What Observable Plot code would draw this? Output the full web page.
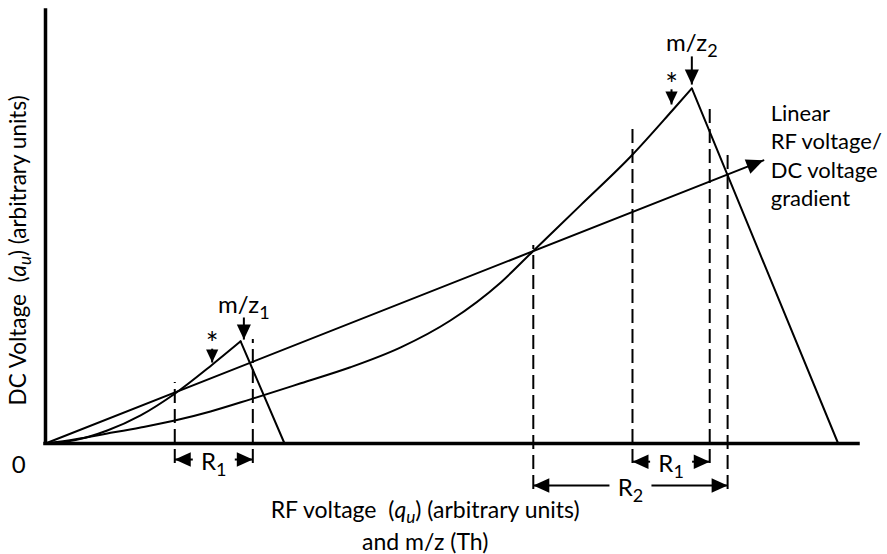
<!DOCTYPE html>
<html>
<head>
<meta charset="utf-8">
<script src="https://cdn.jsdelivr.net/npm/d3@7"></script>
<script src="https://cdn.jsdelivr.net/npm/@observablehq/plot@0.6"></script>
<style>
  body { margin: 0; background: #fff; }
  svg { display: block; }
</style>
</head>
<body>
<div id="chart"></div>
<script>
// Both axes run 0–100 in arbitrary units (x: RF voltage / m/z, y: DC voltage).

// Stability-tip curve for the lighter ion m/z1: rising edge, then the falling edge.
const mz1Rise = [[0, 0], [3.7, 0.8], [7.6, 3.0], [11.7, 6.5], [15.9, 11.5], [20.5, 18.2], [24.0, 23.6]];
const mz1Fall = [[24.0, 23.6], [29.4, 0]];

// Stability-tip curve for the heavier ion m/z2.
const mz2Rise = [[0, 0], [3.7, 1.0], [7.6, 2.3], [11.7, 3.7], [15.9, 5.3], [20.3, 7.4], [25.2, 10.2],
                 [31.4, 13.9], [37.5, 17.6], [43.7, 22.2], [49.8, 28.4], [56.0, 37.2], [59.9, 44.3],
                 [65.8, 55.0], [72.1, 66.5], [77.1, 76.9], [79.5, 82.0]];
const mz2Fall = [[79.5, 82.0], [97.5, 0]];

// Linear RF/DC scan line through the origin.
const scanLine = [[0, 0], [88.3, 65.4]];

// Transmission window edges (dashed): position and vertical extent.
const windowEdges = [
  { x: 15.9, top: 14.1, bottom: -4.6 },
  { x: 25.5, top: 24.0, bottom: -4.6 },
  { x: 60.0, top: 45.7, bottom: -10.6 },
  { x: 72.2, top: 72.5, bottom: -4.6 },
  { x: 81.7, top: 77.6, bottom: -4.6 },
  { x: 83.9, top: 67.2, bottom: -10.6 }
];

// Resolution ranges drawn as double-headed dimension arrows.
const ranges = [
  { label: "R_{1}", from: 15.9, to: 25.5, at: -3.7 },
  { label: "R_{1}", from: 72.2, to: 81.7, at: -4.2 },
  { label: "R_{2}", from: 60.0, to: 83.9, at: -9.7 }
];

// Downward pointers: the apexes and the starred points on each curve.
const pointers = [
  { label: "m/z_{1}", x: 24.4, tip: 24.0, stem: 29.1, labelY: 31.8, big: true },
  { label: "m/z_{2}", x: 79.5, tip: 82.9, stem: 89.4, labelY: 92.4, big: true },
  { label: "*", x: 20.5, tip: 18.7, stem: 21.9, labelY: 22.8, big: false },
  { label: "*", x: 77.0, tip: 78.3, stem: 81.8, labelY: 82.6, big: false }
];

// Axis titles and annotation text.
const originLabel = [{ text: "0", x: -3.3, y: -5.1 }];
const xTitle = [{ text: "RF voltage  (%{q}%_{u}) (arbitrary units)\nand m/z (Th)", x: 46.7, y: -18.5 }];
const yTitle = [{ text: "DC Voltage  (%{a}%_{u}) (arbitrary units)", x: -3.3, y: 44.6 }];
const scanNote = [
  { text: "Linear", x: 89.2, y: 76.2 },
  { text: "RF voltage/", x: 89.2, y: 69.6 },
  { text: "DC voltage", x: 89.2, y: 63.0 },
  { text: "gradient", x: 89.2, y: 56.5 }
];

// Layout
const W = 887, H = 554;
const M = { left: 45, right: 29, top: 10, bottom: 111 };
const kx = (W - M.left - M.right) / 100;
const ky = (H - M.top - M.bottom) / 100;
const FONT = "Lato, 'Open Sans', sans-serif";
const FS = 24;
const GAP = 21 / kx; // half-width of the label gap in a dimension arrow

// Filled triangular arrowhead with its tip at the origin; angle is clockwise from "up".
function head(angle, widthRatio = 0.45) {
  const a = angle * Math.PI / 180, c = Math.cos(a), s = Math.sin(a);
  return {
    draw(ctx, size) {
      const r = Math.sqrt(size / Math.PI), w = r * widthRatio;
      const pts = [[0, 0], [-w, r], [w, r]].map(([x, y]) => [x * c - y * s, x * s + y * c]);
      ctx.moveTo(pts[0][0], pts[0][1]);
      ctx.lineTo(pts[1][0], pts[1][1]);
      ctx.lineTo(pts[2][0], pts[2][1]);
      ctx.closePath();
    }
  };
}

const [p0, p1] = scanLine;
const scanAngle = Math.atan2((p1[0] - p0[0]) * kx, (p1[1] - p0[1]) * ky) * 180 / Math.PI;

const rangeSegments = ranges.flatMap(r => {
  const mid = (r.from + r.to) / 2;
  return [
    { x1: r.from, x2: mid - GAP, y: r.at },
    { x1: mid + GAP, x2: r.to, y: r.at }
  ];
});

const chart = Plot.plot({
  width: W,
  height: H,
  marginLeft: M.left,
  marginRight: M.right,
  marginTop: M.top,
  marginBottom: M.bottom,
  x: { domain: [0, 100], axis: null },
  y: { domain: [0, 100], axis: null },
  marks: [
    // window edges
    Plot.ruleX(windowEdges, { x: "x", y1: "bottom", y2: "top", stroke: "black", strokeWidth: 2, strokeDasharray: "14,6" }),
    // axes
    Plot.ruleX([0], { y1: 0, y2: 100, stroke: "black", strokeWidth: 3.5, strokeLinecap: "square" }),
    Plot.ruleY([0], { x1: 0, x2: 100, stroke: "black", strokeWidth: 3.5, strokeLinecap: "square" }),
    // curves
    Plot.line(mz1Rise, { curve: "monotone-x", stroke: "black", strokeWidth: 2 }),
    Plot.line(mz1Fall, { stroke: "black", strokeWidth: 2 }),
    Plot.line(mz2Rise, { curve: "monotone-x", stroke: "black", strokeWidth: 2 }),
    Plot.line(mz2Fall, { stroke: "black", strokeWidth: 2 }),
    // scan line with its arrowhead
    Plot.line(scanLine, { stroke: "black", strokeWidth: 2 }),
    Plot.dot([p1], { x: d => d[0], y: d => d[1], r: 17, symbol: head(scanAngle), fill: "black" }),
    // dimension arrows
    Plot.link(rangeSegments, { x1: "x1", x2: "x2", y1: "y", y2: "y", stroke: "black", strokeWidth: 2 }),
    Plot.dot(ranges, { x: "from", y: "at", r: 16, symbol: head(-90, 0.45), fill: "black" }),
    Plot.dot(ranges, { x: "to", y: "at", r: 16, symbol: head(90, 0.45), fill: "black" }),
    Plot.text(ranges, { x: d => (d.from + d.to) / 2, y: "at", text: "label", dy: 3, fontSize: FS, fontFamily: FONT }),
    // downward pointers
    Plot.link(pointers, { x1: "x", x2: "x", y1: "stem", y2: "tip", stroke: "black", strokeWidth: 2 }),
    Plot.dot(pointers.filter(d => d.big), { x: "x", y: "tip", r: 15, symbol: head(180, 0.47), fill: "black" }),
    Plot.dot(pointers.filter(d => !d.big), { x: "x", y: "tip", r: 13, symbol: head(180, 0.47), fill: "black" }),
    Plot.text(pointers.filter(d => d.big), { x: "x", y: "labelY", text: "label", fontSize: FS, fontFamily: FONT }),
    Plot.text(pointers.filter(d => !d.big), { x: "x", y: "labelY", text: "label", fontSize: 30, fontFamily: FONT }),
    // titles and notes
    Plot.text(originLabel, { x: "x", y: "y", text: "text", fontSize: FS, fontFamily: FONT }),
    Plot.text(xTitle, { x: "x", y: "y", text: "text", lineHeight: 1.391, fontSize: 23, fontFamily: FONT }),
    Plot.text(yTitle, { x: "x", y: "y", text: "text", rotate: -90, fontSize: 22.5, fontFamily: FONT }),
    Plot.text(scanNote, { x: "x", y: "y", text: "text", textAnchor: "start", fontSize: 22, fontFamily: FONT })
  ]
});

// Expand the small inline markup used in labels: _{..} subscript, %{..} italic, %_{..} italic subscript.
const MARKUP = /(%_\{[^}]*\}|_\{[^}]*\}|%\{[^}]*\})/;
const SUB_SIZE = 0.75, SUB_SHIFT = 0.3; // subscript size and drop, in em of the subscript
function expandMarkup(node) {
  const s = node.textContent;
  if (!/[_%]\{/.test(s)) return;
  const parts = s.split(MARKUP).filter(p => p !== "");
  const el = d3.select(node);
  el.text(null);
  let shifted = false;
  for (const p of parts) {
    let txt = p, sub = false, ital = false;
    if (p.startsWith("%_{")) { txt = p.slice(3, -1); sub = true; ital = true; }
    else if (p.startsWith("_{")) { txt = p.slice(2, -1); sub = true; }
    else if (p.startsWith("%{")) { txt = p.slice(2, -1); ital = true; }
    const t = el.append("tspan").text(txt);
    if (ital) t.attr("font-style", "italic");
    if (sub) {
      t.attr("font-size", `${SUB_SIZE * 100}%`).attr("dy", `${SUB_SHIFT}em`);
      shifted = true;
    } else if (shifted) {
      t.attr("dy", `${-SUB_SHIFT * SUB_SIZE}em`);
      shifted = false;
    }
  }
}
function richText(svg) {
  d3.select(svg).selectAll("text").each(function () {
    const lines = this.querySelectorAll(":scope > tspan");
    if (lines.length) lines.forEach(expandMarkup);
    else expandMarkup(this);
  });
}
richText(chart);

document.getElementById("chart").append(chart);
</script>
</body>
</html>
